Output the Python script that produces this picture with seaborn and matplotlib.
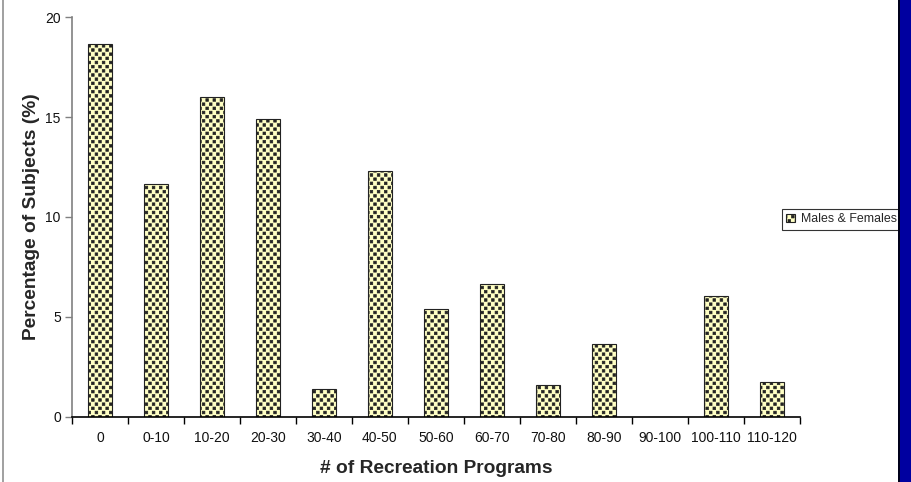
import numpy as np
import matplotlib
matplotlib.use("Agg")
import matplotlib.pyplot as plt
from matplotlib import hatch as mhatch
from matplotlib.path import Path
from matplotlib.patches import Rectangle, Patch
from matplotlib.lines import Line2D
import seaborn as sns
import pandas as pd

categories = ["0", "0-10", "10-20", "20-30", "30-40", "40-50", "50-60",
              "60-70", "70-80", "80-90", "90-100", "100-110", "110-120"]
percent = [18.63, 11.67, 16.02, 14.9, 1.38, 12.28, 5.4,
           6.65, 1.58, 3.67, 0.0, 6.07, 1.77]
y_ticks = [0, 5, 10, 15, 20]
series_name = "Males & Females"


class SquareDots(mhatch.HatchPatternBase):
    """Staggered small filled squares used for the '.' hatch."""
    half = 0.013

    def __init__(self, hatch, density):
        n = hatch.count('.')
        self.n_cols = 14 * n
        self.n_rows = 24 * n
        if n == 0:
            self.num_vertices = 0
        else:
            shapes = ((self.n_rows // 2 + 1) * (self.n_cols + 1)
                      + (self.n_rows // 2) * self.n_cols)
            self.num_vertices = shapes * 5

    def set_vertices_and_codes(self, vertices, codes):
        h = self.half
        square = np.array([[-h, -h], [h, -h], [h, h], [-h, h], [-h, -h]])
        sq_codes = np.array([Path.MOVETO, Path.LINETO, Path.LINETO,
                             Path.LINETO, Path.CLOSEPOLY], dtype=Path.code_type)
        col_step = 1.0 / self.n_cols
        row_step = 1.0 / self.n_rows
        vparts, cparts = [], []
        for row in range(self.n_rows + 1):
            if row % 2 == 0:
                cols = np.linspace(0, 1, self.n_cols + 1)
            else:
                cols = np.linspace(col_step / 2, 1 - col_step / 2, self.n_cols)
            for c in cols:
                vparts.append(square + [c, row * row_step])
                cparts.append(sq_codes)
        np.concatenate(vparts, out=vertices)
        np.concatenate(cparts, out=codes)


mhatch._hatch_types = [SquareDots if t is mhatch.SmallFilledCircles else t
                       for t in mhatch._hatch_types]

sns.set_theme(style="white")
plt.rcParams["font.family"] = ["Liberation Sans", "DejaVu Sans"]
plt.rcParams["hatch.linewidth"] = 0.5
plt.rcParams["hatch.color"] = "black"

df = pd.DataFrame({"range": categories, "pct": percent})

fig = plt.figure(figsize=(9.11, 4.82), dpi=100)
ax = fig.add_axes([0.079, 0.1349, 0.799, 0.8298])

fill = "#FFFFC4"
sns.barplot(data=df, x="range", y="pct", order=categories, color=fill,
            saturation=1, width=0.42, edgecolor="#222222", linewidth=0.8,
            ax=ax)
for p in ax.patches:
    p.set_hatch(".")

ax.set_xlim(-0.5, len(categories) - 0.5)
ax.set_ylim(0, 20)
ax.set_yticks(y_ticks)
ax.set_yticklabels([str(t) for t in y_ticks], fontsize=10, color="#111111")

ax.set_xticks(range(len(categories)))
ax.set_xticklabels(categories, fontsize=10, color="#111111")
ax.set_xticks([i - 0.5 for i in range(len(categories) + 1)], minor=True)
ax.tick_params(axis="x", which="major", length=0, pad=10)
ax.tick_params(axis="x", which="minor", length=5, width=1, color="black",
               direction="out", bottom=True)
ax.tick_params(axis="y", which="major", length=5, width=1, color="#808080",
               direction="out", left=True, pad=3)

for side in ["top", "right"]:
    ax.spines[side].set_visible(False)
ax.spines["left"].set_color("#808080")
ax.spines["left"].set_linewidth(1.2)
ax.spines["bottom"].set_color("black")
ax.spines["bottom"].set_linewidth(1.2)
ax.grid(False)

ax.set_xlabel("# of Recreation Programs", fontsize=13.8, fontweight="bold",
              labelpad=11)
ax.set_ylabel("Percentage of Subjects (%)", fontsize=13.8, fontweight="bold",
              labelpad=4)

handle = Patch(facecolor=fill, edgecolor="#222222", hatch=".",
               linewidth=0.8, label=series_name)
leg = fig.legend(handles=[handle], loc="upper left",
                 bbox_to_anchor=(782 / 911, 1 - 209 / 482),
                 fontsize=8.9, frameon=True, fancybox=False,
                 handlelength=0.7, handleheight=0.7, handletextpad=0.5,
                 borderpad=0.35, borderaxespad=0)
leg.get_frame().set_edgecolor("black")
leg.get_frame().set_linewidth(0.8)

# page edge decorations
fig.add_artist(Line2D([2.5 / 911, 2.5 / 911], [0, 1], color="#909090",
                      linewidth=1.2, transform=fig.transFigure))
fig.add_artist(Rectangle((898 / 911, 0), 13 / 911, 1, transform=fig.transFigure,
                         facecolor="#0000A0", edgecolor="none", zorder=10))
fig.add_artist(Line2D([898.5 / 911, 898.5 / 911], [0, 1], color="black",
                      linewidth=1.2, transform=fig.transFigure, zorder=11))

fig.savefig("out.png", dpi=100)
